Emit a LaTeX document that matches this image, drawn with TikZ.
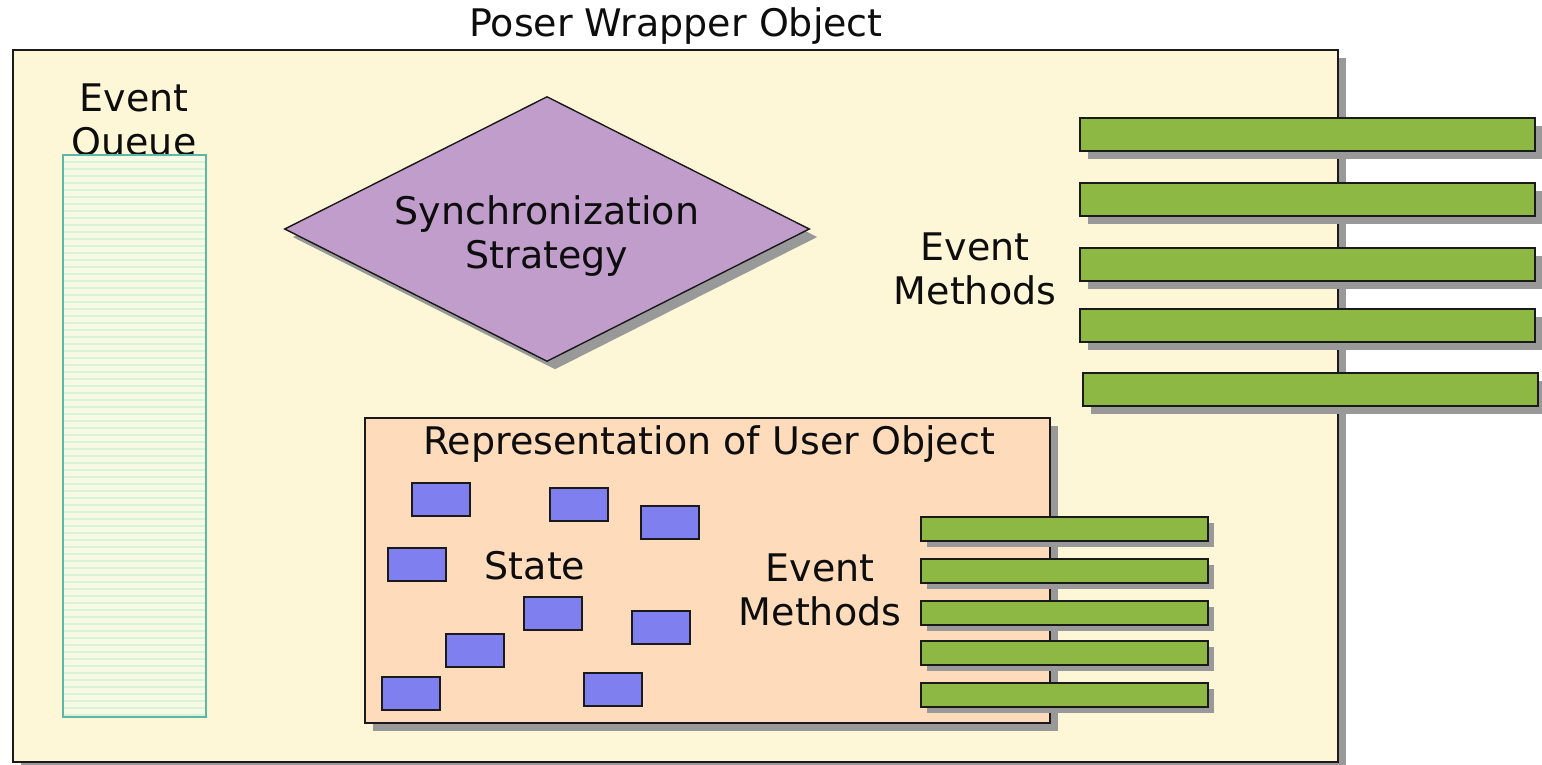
\documentclass[tikz,border=0pt]{standalone}
\usepackage{fontspec}
\setmainfont{DejaVu Sans}
\usetikzlibrary{shapes.geometric,shadows}

\definecolor{cream}{HTML}{FEF7D7}
\definecolor{peach}{HTML}{FDDBBB}
\definecolor{lilac}{HTML}{C09DCB}
\definecolor{leaf}{HTML}{8DB843}
\definecolor{slate}{HTML}{7F7FF0}
\definecolor{teal}{HTML}{5BB8A6}
\definecolor{stripe}{HTML}{DCF2D8}
\definecolor{queuefill}{HTML}{F6FAE4}
\definecolor{edge}{HTML}{1A1A1A}

\tikzset{
  shade box/.style={drop shadow={shadow xshift=8pt, shadow yshift=-8pt, fill=black!40, opacity=1}},
  box/.style={draw=edge, line width=1.6pt, anchor=north west, inner sep=0pt, outer sep=0pt},
  lbl/.style={font=\fontsize{38}{44}\selectfont, align=center, text=black!95, inner sep=0pt},
  gbar/.style={box, fill=leaf, minimum width=455pt, minimum height=33pt, shade box},
  sbar/.style={box, fill=leaf, minimum width=287pt, minimum height=24pt,
    drop shadow={shadow xshift=6pt, shadow yshift=-6pt, fill=black!40, opacity=1}},
  cell/.style={box, fill=slate, minimum width=58pt, minimum height=33pt},
}

\begin{document}
\begin{tikzpicture}[x=1pt, y=-1pt]
\useasboundingbox (0,0) rectangle (1542,764);
\fill[white] (0,0) rectangle (1542,764);

% outer wrapper
\node[box, fill=cream, minimum width=1325pt, minimum height=712pt, shade box] (wrap) at (13,50) {};
\node[lbl] (wraptitle) at (676,26) {Poser Wrapper Object};

% event queue
\node[lbl] (queuetitle) at (134,122) {Event\\Queue};
\node[box, draw=teal, line width=1.2pt, fill=queuefill, minimum width=143pt, minimum height=562pt,
  path picture={\foreach \k in {1,...,80}
    \draw[stripe, line width=1.2pt] ([yshift=-\k*7pt]path picture bounding box.north west)
      -- ([yshift=-\k*7pt]path picture bounding box.north east);}] (queue) at (63,155) {};

% synchronization strategy
\node[diamond, draw=edge, line width=1.4pt, fill=lilac, minimum width=525pt, minimum height=265pt,
  inner sep=0pt, shade box] (sync) at (547,229) {};
\node[lbl] (synctext) at (547,236) {Synchronization\\Strategy};

% event methods of the wrapper
\node[lbl] (wrapevents) at (975,269) {Event\\Methods};
\node[gbar] (wm1) at (1080,118) {};
\node[gbar] (wm2) at (1080,183) {};
\node[gbar] (wm3) at (1080,248) {};
\node[gbar] (wm4) at (1080,309) {};
\node[gbar] (wm5) at (1083,373) {};

% user object representation
\node[box, fill=peach, minimum width=685pt, minimum height=305pt, shade box] (user) at (365,418) {};
\node[lbl] (usertitle) at (709,444) {Representation of User Object};

% state cells
\node[cell] (s1) at (412,483) {};
\node[cell] (s2) at (550,488) {};
\node[cell] (s3) at (641,506) {};
\node[cell] (s4) at (388,548) {};
\node[cell] (s5) at (524,597) {};
\node[cell] (s6) at (632,611) {};
\node[cell] (s7) at (446,634) {};
\node[cell] (s8) at (382,677) {};
\node[cell] (s9) at (584,673) {};
\node[lbl] (statetext) at (535,566) {State};

% event methods of the user object
\node[lbl] (userevents) at (820,590) {Event\\Methods};
\node[sbar] (um1) at (921,517) {};
\node[sbar] (um2) at (921,559) {};
\node[sbar] (um3) at (921,601) {};
\node[sbar] (um4) at (921,641) {};
\node[sbar] (um5) at (921,683) {};
\end{tikzpicture}
\end{document}
